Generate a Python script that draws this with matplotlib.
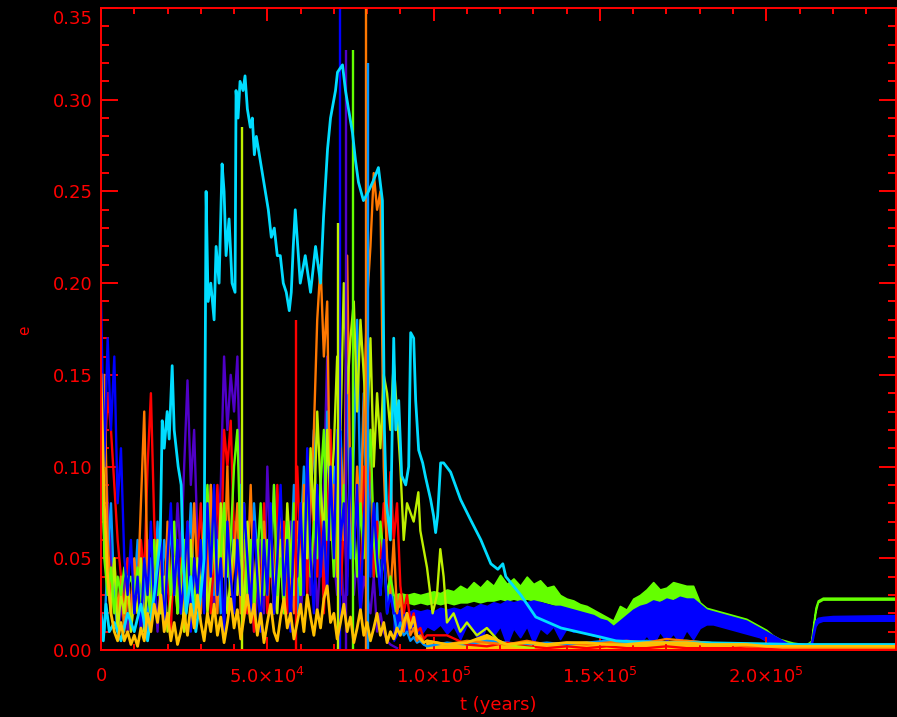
import matplotlib
matplotlib.use("Agg")
import matplotlib.pyplot as plt
from matplotlib.ticker import MultipleLocator, FuncFormatter
from matplotlib.transforms import ScaledTranslation

# time axis in units of 1000 years (scaled to years when plotting)
T_CHAOS = [0, 1, 2, 3, 4, 5, 6, 7, 8, 9, 10, 11, 12, 13, 14, 15, 16, 17, 18, 19,
           20, 21, 22, 23, 24, 25, 26, 27, 28, 29, 30, 31, 32, 33, 34, 35, 36, 37, 38, 39,
           40, 41, 42, 43, 44, 45, 46, 47, 48, 49, 50, 51, 52, 53, 54, 55, 56, 57, 58, 59,
           60, 61, 62, 63, 64, 65, 66, 67, 68, 69, 70, 71, 72, 73, 74, 75, 76, 77, 78, 79,
           80, 81, 82, 83, 84, 85, 86, 87, 88, 89, 90, 91, 92, 93, 94, 95, 96, 97, 98]

# blue / green: chaotic phase up to t = 88 kyr, then the bands below
blue_chaos = [0.19, 0.10, 0.17, 0.12, 0.16, 0.08, 0.11, 0.05, 0.03, 0.06,
              0.02, 0.04, 0.01, 0.05, 0.03, 0.07, 0.02, 0.04, 0.06, 0.01,
              0.05, 0.08, 0.03, 0.06, 0.02, 0.04, 0.07, 0.01, 0.05, 0.03,
              0.06, 0.02, 0.08, 0.04, 0.09, 0.03, 0.05, 0.01, 0.07, 0.04,
              0.02, 0.06, 0.03, 0.08, 0.05, 0.02, 0.07, 0.04, 0.01, 0.06,
              0.03, 0.08, 0.02, 0.05, 0.09, 0.03, 0.06, 0.01, 0.07, 0.04,
              0.08, 0.03, 0.11, 0.05, 0.02, 0.09, 0.04, 0.07, 0.03, 0.10,
              0.05, 0.12, 0.06, 0.08, 0.03, 0.11, 0.05, 0.09, 0.02, 0.07,
              0.10, 0.04, 0.08, 0.05, 0.03, 0.06, 0.02, 0.03, 0.02]
green_chaos = [0.15, 0.05, 0.03, 0.045, 0.02, 0.04, 0.03, 0.045, 0.035, 0.04,
               0.03, 0.045, 0.02, 0.05, 0.03, 0.02, 0.06, 0.03, 0.04, 0.02,
               0.05, 0.03, 0.07, 0.02, 0.04, 0.06, 0.03, 0.05, 0.02, 0.04,
               0.03, 0.06, 0.09, 0.04, 0.07, 0.03, 0.05, 0.08, 0.04, 0.06,
               0.10, 0.12, 0.05, 0.08, 0.03, 0.06, 0.02, 0.05, 0.08, 0.03,
               0.06, 0.04, 0.09, 0.03, 0.05, 0.02, 0.07, 0.04, 0.08, 0.05,
               0.03, 0.06, 0.10, 0.04, 0.07, 0.05, 0.09, 0.12, 0.06, 0.08,
               0.04, 0.10, 0.06, 0.09, 0.05, 0.11, 0.07, 0.04, 0.08, 0.05,
               0.09, 0.12, 0.06, 0.04, 0.07, 0.05, 0.03, 0.04, 0.03]
lblue_chaos = [0.02, 0.01, 0.05, 0.08, 0.03, 0.01, 0.04, 0.02, 0.05, 0.01,
               0.03, 0.06, 0.02, 0.04, 0.01, 0.05, 0.03, 0.07, 0.02, 0.06,
               0.04, 0.07, 0.03, 0.05, 0.02, 0.06, 0.04, 0.08, 0.03, 0.05,
               0.02, 0.07, 0.04, 0.09, 0.03, 0.06, 0.02, 0.08, 0.05, 0.03,
               0.07, 0.04, 0.09, 0.02, 0.06, 0.03, 0.08, 0.05, 0.02, 0.07,
               0.04, 0.06, 0.02, 0.08, 0.05, 0.03, 0.07, 0.04, 0.09, 0.02,
               0.06, 0.10, 0.04, 0.08, 0.12, 0.05, 0.09, 0.03, 0.13, 0.06,
               0.10, 0.04, 0.12, 0.07, 0.15, 0.05, 0.11, 0.18, 0.08, 0.14,
               0.06, 0.10, 0.04, 0.08, 0.03, 0.06, 0.02, 0.04, 0.02, 0.01,
               0.015, 0.008, 0.01, 0.005, 0.007, 0.004, 0.005, 0.003, 0.002]
red_chaos = [0.13, 0.10, 0.14, 0.12, 0.09, 0.06, 0.04, 0.02, 0.05, 0.01,
             0.03, 0.02, 0.06, 0.04, 0.10, 0.14, 0.07, 0.03, 0.05, 0.02,
             0.04, 0.01, 0.06, 0.03, 0.05, 0.02, 0.07, 0.04, 0.02, 0.05,
             0.08, 0.03, 0.06, 0.02, 0.05, 0.09, 0.04, 0.12, 0.10, 0.125,
             0.06, 0.03, 0.07, 0.04, 0.02, 0.05, 0.01, 0.06, 0.03, 0.08,
             0.02, 0.05, 0.03, 0.09, 0.04, 0.07, 0.02, 0.06, 0.04, 0.10,
             0.05, 0.08, 0.03, 0.10, 0.06, 0.04, 0.09, 0.02, 0.07, 0.12,
             0.05, 0.09, 0.03, 0.07, 0.04, 0.11, 0.06, 0.08, 0.03, 0.10,
             0.06, 0.12, 0.04, 0.07, 0.05, 0.08, 0.06, 0.097, 0.06, 0.08,
             0.035, 0.02, 0.03, 0.015, 0.02, 0.01, 0.012, 0.006, 0.008]
orange_chaos = [0.12, 0.15, 0.06, 0.03, 0.05, 0.02, 0.04, 0.01, 0.03, 0.02,
                0.05, 0.03, 0.08, 0.13, 0.04, 0.02, 0.06, 0.03, 0.05, 0.02,
                0.07, 0.03, 0.05, 0.02, 0.04, 0.01, 0.06, 0.03, 0.08, 0.04,
                0.02, 0.06, 0.03, 0.09, 0.05, 0.02, 0.07, 0.04, 0.10, 0.03,
                0.05, 0.08, 0.02, 0.06, 0.04, 0.09, 0.03, 0.05, 0.02, 0.07,
                0.04, 0.06, 0.02, 0.05, 0.08, 0.03, 0.06, 0.04, 0.02, 0.07,
                0.03, 0.09, 0.05, 0.08, 0.12, 0.18, 0.21, 0.16, 0.19, 0.06,
                0.09, 0.04, 0.11, 0.06, 0.215, 0.08, 0.05, 0.10, 0.07, 0.13,
                0.19, 0.22, 0.26, 0.24, 0.25, 0.10, 0.05, 0.03, 0.06, 0.02,
                0.03, 0.01, 0.02, 0.008, 0.012, 0.005, 0.008, 0.004, 0.005]
gold_chaos = [0.15, 0.08, 0.04, 0.02, 0.01, 0.005, 0.015, 0.005, 0.01, 0.003,
              0.008, 0.002, 0.012, 0.005, 0.02, 0.01, 0.025, 0.015, 0.03, 0.01,
              0.02, 0.005, 0.015, 0.003, 0.01, 0.02, 0.008, 0.025, 0.012, 0.03,
              0.015, 0.005, 0.02, 0.01, 0.025, 0.008, 0.018, 0.004, 0.015, 0.028,
              0.012, 0.022, 0.006, 0.018, 0.03, 0.015, 0.025, 0.008, 0.02, 0.004,
              0.015, 0.025, 0.01, 0.005, 0.018, 0.028, 0.012, 0.02, 0.006, 0.015,
              0.025, 0.01, 0.03, 0.018, 0.008, 0.022, 0.012, 0.028, 0.035, 0.015,
              0.02, 0.006, 0.015, 0.025, 0.01, 0.018, 0.004, 0.012, 0.022, 0.008,
              0.015, 0.005, 0.012, 0.02, 0.008, 0.015, 0.004, 0.01, 0.006, 0.012,
              0.008, 0.015, 0.02, 0.012, 0.018, 0.008, 0.006, 0.004, 0.005]
purple_chaos = [0.16, 0.12, 0.08, 0.05, 0.03, 0.01, 0.02, 0.04, 0.01, 0.03,
                0.02, 0.05, 0.01, 0.03, 0.06, 0.02, 0.04, 0.01, 0.05, 0.03,
                0.06, 0.02, 0.04, 0.08, 0.05, 0.10, 0.147, 0.09, 0.12, 0.06,
                0.04, 0.07, 0.03, 0.05, 0.02, 0.06, 0.09, 0.16, 0.12, 0.15,
                0.13, 0.16, 0.08, 0.05, 0.02, 0.04, 0.01, 0.03, 0.06, 0.02,
                0.10, 0.05, 0.09, 0.03, 0.06, 0.02, 0.04, 0.07, 0.03, 0.05,
                0.02, 0.04, 0.07, 0.03, 0.06, 0.02, 0.05, 0.09, 0.16, 0.08,
                0.05, 0.03, 0.06, 0.02, 0.04, 0.08, 0.03, 0.05, 0.02, 0.04,
                0.03, 0.02, 0.04, 0.01, 0.02, 0.01, 0.005, 0.003, 0.002, 0.001]
yg_chaos = [0.10, 0.06, 0.04, 0.02, 0.05, 0.01, 0.03, 0.02, 0.04, 0.01,
            0.03, 0.02, 0.05, 0.01, 0.04, 0.02, 0.03, 0.06, 0.02, 0.04,
            0.01, 0.03, 0.05, 0.02, 0.04, 0.01, 0.03, 0.06, 0.02, 0.05,
            0.03, 0.07, 0.02, 0.04, 0.06, 0.03, 0.08, 0.05, 0.02, 0.04,
            0.06, 0.03, 0.05, 0.02, 0.07, 0.04, 0.03, 0.06, 0.02, 0.05,
            0.03, 0.07, 0.04, 0.02, 0.06, 0.03, 0.08, 0.05, 0.03, 0.06,
            0.04, 0.08, 0.05, 0.11, 0.07, 0.13, 0.09, 0.06, 0.12, 0.08,
            0.11, 0.16, 0.12, 0.20, 0.14, 0.17, 0.19, 0.13, 0.18, 0.15,
            0.12, 0.17, 0.10, 0.14, 0.11, 0.15, 0.14, 0.12, 0.157]

# yellow-green tail after the chaotic phase
T_YG_TAIL = [90, 91, 92, 94, 95.4, 96, 98, 99.7, 101, 102, 103, 104, 106, 108, 110, 113, 116, 120, 125, 130]
yg_tail = [0.10, 0.06, 0.08, 0.07, 0.086, 0.065, 0.045, 0.02, 0.03, 0.055, 0.04, 0.015, 0.02, 0.01,
           0.015, 0.008, 0.012, 0.004, 0.002, 0.001]

# cyan planet, traced along the whole run
T_CYAN = [0, 0.7, 1.5, 2.5, 4, 6, 8, 10, 12, 14, 16, 17.8, 18.4, 19, 19.9, 20.5, 21.4, 22, 23.2, 24.1,
          24.7, 25.6, 27, 28.5, 30, 31, 31.6, 32.2, 33, 34, 34.6, 35.5, 36.4, 37, 37.6, 38.5, 39.4, 40.3,
          40.6, 41.2, 41.8, 42.7, 43.3, 44, 44.9, 45.5, 46.1, 46.7, 47.6, 48.5, 49.4, 50.3, 51.2, 52.1,
          53, 53.9, 54.8, 55.7, 56.6, 57.2, 57.8, 58.4, 59.9, 61.4, 63, 64.5, 66, 66.9, 68.1, 69, 70.5,
          71.1, 72.6, 73.5, 74.4, 75.6, 76.5, 77.4, 78.9, 80.4, 81.9, 83.4, 84.6, 85.2, 85.8, 87, 88,
          88.6, 89.5, 90.4, 91.6, 92.5, 93.1, 94, 94.6, 95.5, 96.7, 97.6, 99.1, 100, 100.6, 101.2, 102.1,
          103, 105.1, 108.1, 111.1, 114.2, 117.2, 119.3, 120.8, 121.7, 126.2, 130.7, 138.3, 150.3, 154.8,
          165.4, 180.4, 210.5, 239]
cyan = [0.02, 0.005, 0.025, 0.01, 0.015, 0.005, 0.02, 0.01, 0.025, 0.005, 0.03, 0.06, 0.125, 0.11, 0.13,
        0.115, 0.155, 0.12, 0.10, 0.09, 0.05, 0.02, 0.04, 0.01, 0.03, 0.05, 0.25, 0.19, 0.20, 0.18, 0.22,
        0.20, 0.265, 0.25, 0.215, 0.235, 0.20, 0.195, 0.305, 0.29, 0.31, 0.305, 0.313, 0.295, 0.285, 0.29,
        0.27, 0.28, 0.27, 0.26, 0.25, 0.24, 0.225, 0.23, 0.215, 0.215, 0.20, 0.195, 0.185, 0.195, 0.22,
        0.24, 0.20, 0.215, 0.195, 0.22, 0.20, 0.236, 0.273, 0.29, 0.305, 0.315, 0.319, 0.305, 0.295, 0.282,
        0.267, 0.255, 0.245, 0.25, 0.256, 0.263, 0.245, 0.12, 0.08, 0.06, 0.17, 0.12, 0.136, 0.095, 0.09,
        0.10, 0.173, 0.17, 0.136, 0.109, 0.102, 0.094, 0.082, 0.073, 0.064, 0.073, 0.102, 0.102, 0.097,
        0.082, 0.071, 0.06, 0.047, 0.044, 0.047, 0.04, 0.03, 0.018, 0.012, 0.007, 0.005, 0.004, 0.004,
        0.003, 0.003]

# blue and green planets after the chaotic phase: band (lower, upper edge)
T_BAND = [88, 90, 92, 94, 96, 98, 100, 102, 104, 106, 108, 110, 112, 114, 116, 118, 120, 122, 124, 126,
          128, 130, 132, 134, 136, 138, 140, 142, 144, 146, 148, 150, 152, 154, 156, 158, 160, 162, 164,
          166, 168, 170, 172, 174, 176, 178, 180, 182, 184, 186, 188, 190, 192, 194, 196, 198, 200, 202,
          204, 206, 208, 210, 212, 213.5, 214.2, 214.8, 215.5, 217, 220, 239]
blue_lo = [0.005, 0.012, 0.010, 0.013, 0.008, 0.013, 0.011, 0.014, 0.009, 0.013, 0.006, 0.014, 0.010,
           0.004, 0.014, 0.008, 0.013, 0.003, 0.012, 0.007, 0.013, 0.004, 0.012, 0.009, 0.013, 0.006,
           0.012, 0.010, 0.011, 0.009, 0.008, 0.007, 0.005, 0.004, 0.005, 0.003, 0.006, 0.004, 0.008,
           0.003, 0.010, 0.005, 0.009, 0.004, 0.011, 0.006, 0.012, 0.014, 0.014, 0.013, 0.012, 0.011,
           0.010, 0.009, 0.008, 0.007, 0.005, 0.004, 0.003, 0.002, 0.002, 0.002, 0.002, 0.002, 0.008,
           0.013, 0.015, 0.016, 0.016, 0.016]
blue_hi = [0.020, 0.022, 0.020, 0.022, 0.021, 0.022, 0.021, 0.023, 0.022, 0.023, 0.022, 0.024, 0.023,
           0.025, 0.024, 0.026, 0.025, 0.027, 0.026, 0.027, 0.026, 0.027, 0.026, 0.025, 0.024, 0.024,
           0.023, 0.022, 0.021, 0.020, 0.019, 0.017, 0.016, 0.013, 0.016, 0.019, 0.022, 0.024, 0.025,
           0.027, 0.026, 0.028, 0.027, 0.029, 0.028, 0.028, 0.025, 0.022, 0.021, 0.020, 0.019, 0.018,
           0.017, 0.016, 0.014, 0.012, 0.010, 0.008, 0.006, 0.004, 0.003, 0.003, 0.003, 0.004, 0.011,
           0.016, 0.0175, 0.018, 0.0185, 0.019]
green_lo = [0.020, 0.025, 0.026, 0.025, 0.026, 0.025, 0.026, 0.025, 0.026, 0.025, 0.026, 0.026, 0.027,
            0.026, 0.027, 0.027, 0.028, 0.027, 0.028, 0.027, 0.028, 0.027, 0.027, 0.026, 0.025, 0.024,
            0.023, 0.022, 0.021, 0.020, 0.019, 0.017, 0.016, 0.013, 0.016, 0.019, 0.022, 0.024, 0.025,
            0.026, 0.027, 0.028, 0.028, 0.029, 0.028, 0.028, 0.025, 0.022, 0.021, 0.019, 0.018, 0.017,
            0.016, 0.015, 0.013, 0.011, 0.009, 0.007, 0.005, 0.004, 0.003, 0.003, 0.002, 0.003, 0.013,
            0.021, 0.026, 0.0275, 0.0275, 0.0275]
green_hi = [0.030, 0.031, 0.030, 0.031, 0.030, 0.031, 0.032, 0.031, 0.033, 0.032, 0.035, 0.033, 0.037,
            0.034, 0.038, 0.035, 0.041, 0.036, 0.039, 0.035, 0.040, 0.036, 0.038, 0.034, 0.035, 0.030,
            0.028, 0.027, 0.025, 0.024, 0.022, 0.020, 0.018, 0.016, 0.024, 0.022, 0.028, 0.030, 0.033,
            0.037, 0.033, 0.034, 0.037, 0.036, 0.035, 0.035, 0.026, 0.023, 0.022, 0.021, 0.020, 0.019,
            0.018, 0.017, 0.015, 0.013, 0.011, 0.008, 0.006, 0.005, 0.004, 0.0035, 0.003, 0.005, 0.015,
            0.023, 0.027, 0.0285, 0.0285, 0.0285]

# small leftovers near e = 0 after the chaotic phase
T_LATE = [98, 104, 110, 116, 122, 128, 134, 140, 146, 152, 158, 164, 170, 176, 182, 188, 194, 200, 206,
          212, 218, 224, 230, 239]
gold_late = [0.005, 0.003, 0.004, 0.008, 0.003, 0.004, 0.003, 0.004, 0.004, 0.003, 0.003, 0.004, 0.004,
             0.004, 0.003, 0.003, 0.003, 0.002, 0.002, 0.002, 0.002, 0.002, 0.002, 0.002]
orange_late = [0.004, 0.003, 0.005, 0.004, 0.003, 0.005, 0.003, 0.004, 0.003, 0.004, 0.005, 0.004, 0.006,
               0.005, 0.004, 0.003, 0.002, 0.002, 0.001, 0.001, 0.001, 0.001, 0.001, 0.001]
red_late = [0.005, 0.008, 0.003, 0.002, 0.004, 0.002, 0.001, 0.002, 0.001, 0.002, 0.001, 0.001, 0.002,
            0.001, 0.001, 0.001, 0.001, 0.001, 0.001, 0.002, 0.001, 0.001, 0.001, 0.001]
lblue_late = [0.002, 0.004, 0.003, 0.005, 0.004, 0.003, 0.004, 0.003, 0.004, 0.005, 0.004, 0.005, 0.004,
              0.005, 0.004, 0.003, 0.003, 0.002, 0.002, 0.002, 0.002, 0.002, 0.002, 0.002]

# single-sample excursions (vertical spikes)
SPIKE_T = [42.3, 58.7, 72.0, 73.6, 75.8, 79.8, 80.3, 71.3]
SPIKE_E = [0.285, 0.18, 0.36, 0.327, 0.327, 0.36, 0.32, 0.233]
SPIKE_SERIES = ["yg", "red", "blue", "purple", "green", "orange", "lblue", "yg"]

COLORS = {
    "cyan": "#00dcff", "blue": "#0000ff", "green": "#64ff00", "yg": "#bef000",
    "red": "#ff0000", "orange": "#ff7800", "gold": "#ffc000", "purple": "#5000c8",
    "lblue": "#0096ff",
}
AXC = "#ff0000"
YR = 1000.0


def yrs(t):
    return [v * YR for v in t]


fig = plt.figure(figsize=(8.97, 7.17), dpi=100, facecolor="black")
ax = fig.add_axes([101 / 897, 67 / 717, 795 / 897, 642 / 717], facecolor="black")

lw = 1.7
n_bg = len(blue_chaos)
ax.plot(yrs(T_CHAOS[:len(purple_chaos)]), purple_chaos, color=COLORS["purple"], lw=lw)
ax.plot(yrs(T_CHAOS + T_LATE[1:]), lblue_chaos + lblue_late[1:], color=COLORS["lblue"], lw=lw)
ax.plot(yrs(T_CHAOS + T_LATE[1:]), red_chaos + red_late[1:], color=COLORS["red"], lw=lw)
ax.plot(yrs(T_CHAOS + T_LATE[1:]), orange_chaos + orange_late[1:], color=COLORS["orange"], lw=lw)
ax.plot(yrs(T_CHAOS[:n_bg] + T_YG_TAIL), yg_chaos + yg_tail, color=COLORS["yg"], lw=lw)
ax.plot(yrs(T_CHAOS[:n_bg]), green_chaos, color=COLORS["green"], lw=lw)
ax.fill_between(yrs(T_BAND), green_lo, green_hi, color=COLORS["green"], lw=1.2, edgecolor=COLORS["green"])
ax.plot(yrs(T_CHAOS[:n_bg]), blue_chaos, color=COLORS["blue"], lw=lw)
ax.fill_between(yrs(T_BAND), blue_lo, blue_hi, color=COLORS["blue"], lw=1.2, edgecolor=COLORS["blue"])

for t, e, s in zip(SPIKE_T, SPIKE_E, SPIKE_SERIES):
    ax.vlines(t * YR, 0, e, color=COLORS[s], lw=lw)

ax.plot(yrs(T_CYAN), cyan, color=COLORS["cyan"], lw=2.0)
ax.plot(yrs(T_CHAOS + T_LATE[1:]), gold_chaos + gold_late[1:], color=COLORS["gold"], lw=2.0)
ax.fill_between(yrs(T_LATE), 0, gold_late, color=COLORS["gold"], lw=2.0, edgecolor=COLORS["gold"])

ax.set_xlim(0, 2.39e5)
ax.set_ylim(0, 0.35)

for sp in ax.spines.values():
    sp.set_color(AXC)
    sp.set_linewidth(1.4)

ax.xaxis.set_major_locator(MultipleLocator(5e4))
ax.xaxis.set_minor_locator(MultipleLocator(1e4))
ax.yaxis.set_major_locator(MultipleLocator(0.05))
ax.yaxis.set_minor_locator(MultipleLocator(0.01))


def xfmt(v, pos):
    if v == 0:
        return "0"
    exp = 4 if v < 1e5 else 5
    return "%.1f$\\times$10$^{%d}$" % (v / 10 ** exp, exp)


ax.xaxis.set_major_formatter(FuncFormatter(xfmt))
ax.yaxis.set_major_formatter(FuncFormatter(lambda v, p: "%.2f" % v))

ax.tick_params(axis="x", which="major", direction="in", length=9.5, width=1.4, color=AXC,
               top=True, labelcolor=AXC, labelsize=13, pad=12)
ax.tick_params(axis="x", which="minor", direction="in", length=4.5, width=1.4, color=AXC, top=True)
ax.tick_params(axis="y", which="major", direction="in", length=12, width=1.4, color=AXC,
               right=True, labelcolor=AXC, labelsize=13, pad=6)
ax.tick_params(axis="y", which="minor", direction="in", length=6, width=1.4, color=AXC, right=True)

fig.text(498 / 897, 1 - 705 / 717, "t (years)", color=AXC, fontsize=13, ha="center", va="center")
fig.text(25 / 897, 1 - 330 / 717, "e", color=AXC, fontsize=11, ha="center", va="center", rotation=90)

# the top y label sits a little below the top axis in the original
fig.canvas.draw()
for tick in ax.yaxis.get_major_ticks():
    if tick.label1.get_text() == "0.35":
        tick.label1.set_transform(tick.label1.get_transform()
                                  + ScaledTranslation(0, -0.09, fig.dpi_scale_trans))

fig.savefig("out.png", dpi=100, facecolor="black")
